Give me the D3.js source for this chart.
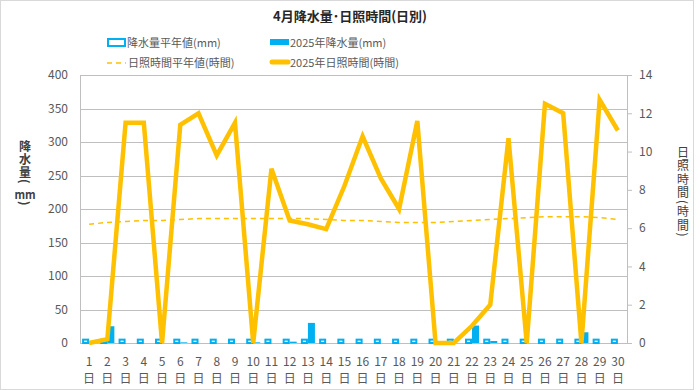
<!DOCTYPE html>
<html lang="ja">
<head>
<meta charset="utf-8">
<title>4月降水量・日照時間(日別)</title>
<script src="https://cdn.jsdelivr.net/npm/d3@7"></script>
<style>
  html, body { margin: 0; padding: 0; background: #fff; }
  svg { font-family: "Noto Sans CJK JP", "Noto Sans", sans-serif; }
  .tick text { fill: #595959; font-size: 12px; }
  .legend text { fill: #595959; font-size: 11px; }
</style>
</head>
<body>
<div id="chart"></div>
<script>
// data
var days = d3.range(1, 31);
var rainAvg = [5,5,5,5,5,5,5,5,5,5,5,5,5,5,5,5,5,5,5,5,5,5,5,5,5,5,5,5,5,5];
var rain2025 = [0.5,25,0,0,0,1,0,0,0,1,0,2,30,0,0,0,0,0,0,0,0,26,3,0,0,0,0,16,0,0];
var sunAvg = [6.2,6.3,6.35,6.4,6.4,6.45,6.5,6.5,6.5,6.5,6.5,6.5,6.5,6.45,6.4,6.4,6.35,6.3,6.3,6.3,6.35,6.4,6.45,6.5,6.55,6.6,6.6,6.6,6.55,6.45];
var sun2025 = [0,0.2,11.5,11.5,0,11.4,12.0,9.8,11.5,0,9.1,6.4,6.2,5.95,8.2,10.8,8.6,7.0,11.6,0,0,0.9,2.0,10.7,0,12.5,12.0,0,12.7,11.1];
var rainTicks = [0,50,100,150,200,250,300,350,400];
var sunTicks = [0,2,4,6,8,10,12,14];

var W = 700, H = 390;
var pLeft = 80, pRight = 627, pTop = 75, pBottom = 343;

var svg = d3.select("#chart").append("svg")
  .attr("width", W).attr("height", H);

// outer frame
svg.append("rect").attr("x", 0.5).attr("y", 0.5)
  .attr("width", 693).attr("height", H - 1)
  .attr("fill", "#fff").attr("stroke", "#d9d9d9");

var x = d3.scaleBand().domain(days).range([pLeft, pRight]);
var xs = d3.scaleBand().domain(["avg", "cur"]).range([0, x.bandwidth()])
  .paddingInner(0).paddingOuter(0.3);
var yL = d3.scaleLinear().domain([0, 400]).range([pBottom, pTop]);
var yR = d3.scaleLinear().domain([0, 14]).range([pBottom, pTop]);

// gridlines
svg.append("g").selectAll("line").data(rainTicks.slice(1)).enter().append("line")
  .attr("x1", pLeft).attr("x2", pRight)
  .attr("y1", function(d) { return Math.round(yL(d)) + 0.5; })
  .attr("y2", function(d) { return Math.round(yL(d)) + 0.5; })
  .attr("stroke", "#bfbfbf");

// left axis
var gl = svg.append("g").attr("transform", "translate(" + pLeft + ",0)")
  .call(d3.axisLeft(yL).tickValues(rainTicks).tickSize(0).tickPadding(12));
gl.select(".domain").attr("stroke", "#bfbfbf");

// right axis
var gr = svg.append("g").attr("transform", "translate(" + pRight + ",0)")
  .call(d3.axisRight(yR).tickValues(sunTicks).tickSize(5).tickPadding(7));
gr.select(".domain").attr("stroke", "#bfbfbf");
gr.selectAll(".tick line").attr("stroke", "#bfbfbf");
gl.attr("font-family", null); gr.attr("font-family", null);

// bottom axis line
svg.append("line").attr("x1", pLeft).attr("x2", pRight)
  .attr("y1", pBottom + 0.5).attr("y2", pBottom + 0.5).attr("stroke", "#bfbfbf");

// x labels
var xl = svg.append("g").selectAll("g").data(days).enter().append("g")
  .attr("transform", function(d) { return "translate(" + (x(d) + x.bandwidth() / 2) + ",0)"; });
xl.append("text").attr("y", 366).attr("text-anchor", "middle")
  .attr("fill", "#595959").attr("font-size", 12).text(function(d) { return d; });
xl.append("text").attr("y", 383).attr("text-anchor", "middle")
  .attr("fill", "#595959").attr("font-size", 12).text("日");

// bars
svg.append("g").selectAll("rect").data(rainAvg).enter().append("rect")
  .attr("x", function(d, i) { return x(days[i]) + xs("avg") + 1; })
  .attr("y", function(d) { return yL(d); })
  .attr("width", xs.bandwidth() - 2)
  .attr("height", function(d) { return yL(0) - yL(d); })
  .attr("fill", "#fff").attr("stroke", "#00b0f0").attr("stroke-width", 2);

svg.append("g").selectAll("rect").data(rain2025).enter().append("rect")
  .attr("x", function(d, i) { return x(days[i]) + xs("cur"); })
  .attr("y", function(d) { return yL(d); })
  .attr("width", xs.bandwidth())
  .attr("height", function(d) { return yL(0) - yL(d); })
  .attr("fill", "#00b0f0");

// lines
var lineR = d3.line()
  .x(function(d, i) { return x(days[i]) + x.bandwidth() / 2; })
  .y(function(d) { return yR(d); });

svg.append("path").datum(sunAvg).attr("d", lineR)
  .attr("fill", "none").attr("stroke", "#ffc000")
  .attr("stroke-width", 1.5).attr("stroke-dasharray", "5,4");

svg.append("path").datum(sun2025).attr("d", lineR)
  .attr("fill", "none").attr("stroke", "#ffc000")
  .attr("stroke-width", 4.5).attr("stroke-linejoin", "miter");

// title
svg.append("text").attr("x", 350).attr("y", 21).attr("text-anchor", "middle")
  .attr("font-size", 13).attr("font-weight", "bold").attr("fill", "#262626")
  .text("4月降水量･日照時間(日別)");

// axis titles (vertical)
svg.append("text").attr("x", 25).attr("y", 140)
  .attr("writing-mode", "vertical-rl").attr("letter-spacing", 1)
  .attr("font-size", 12).attr("font-weight", "bold").attr("fill", "#404040")
  .text("降水量(");
svg.append("text").attr("x", 25).attr("y", 199).attr("text-anchor", "middle")
  .attr("font-size", 11).attr("font-weight", "bold").attr("fill", "#404040")
  .text("mm");
svg.append("text").attr("x", 25).attr("y", 201)
  .attr("writing-mode", "vertical-rl")
  .attr("font-size", 12).attr("font-weight", "bold").attr("fill", "#404040")
  .text(")");

svg.append("text").attr("x", 683).attr("y", 146)
  .attr("writing-mode", "vertical-rl").attr("letter-spacing", 1.5)
  .attr("font-size", 12).attr("fill", "#404040")
  .text("日照時間(時間)");

// legend
var lg = svg.append("g").attr("class", "legend");
lg.append("rect").attr("x", 108).attr("y", 39).attr("width", 17).attr("height", 7)
  .attr("fill", "#fff").attr("stroke", "#00b0f0").attr("stroke-width", 2);
lg.append("text").attr("x", 127).attr("y", 47).text("降水量平年値(mm)");
lg.append("rect").attr("x", 270).attr("y", 39).attr("width", 19).attr("height", 6)
  .attr("fill", "#00b0f0");
lg.append("text").attr("x", 290).attr("y", 47).text("2025年降水量(mm)");
lg.append("line").attr("x1", 107).attr("x2", 126).attr("y1", 63).attr("y2", 63)
  .attr("stroke", "#ffc000").attr("stroke-width", 1.5).attr("stroke-dasharray", "5,4");
lg.append("text").attr("x", 128).attr("y", 67).text("日照時間平年値(時間)");
lg.append("line").attr("x1", 272).attr("x2", 288).attr("y1", 62).attr("y2", 62)
  .attr("stroke", "#ffc000").attr("stroke-width", 5).attr("stroke-linecap", "round");
lg.append("text").attr("x", 290).attr("y", 67).text("2025年日照時間(時間)");
</script>
</body>
</html>
